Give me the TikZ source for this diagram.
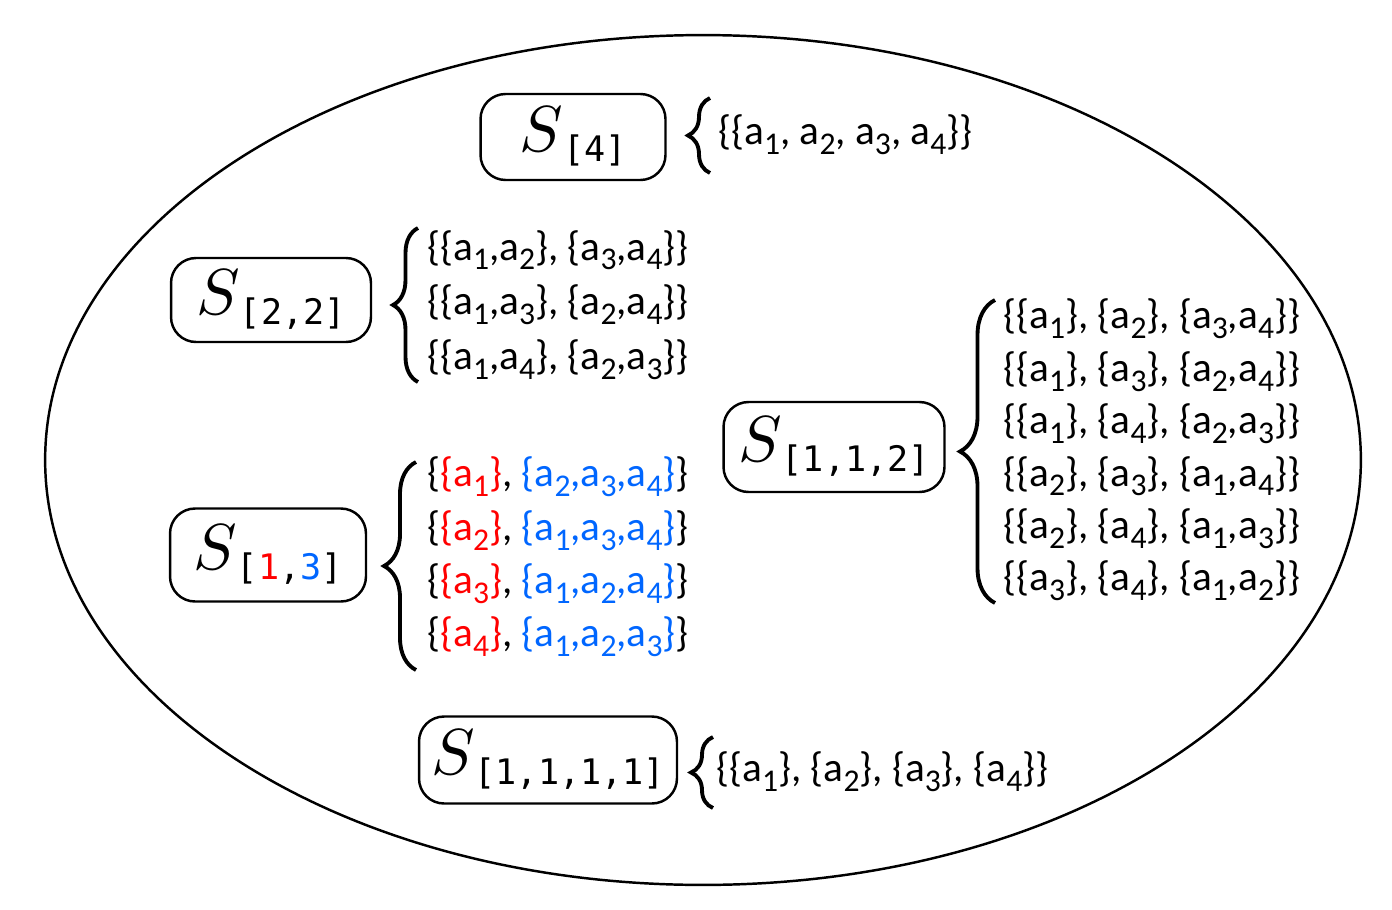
\documentclass[tikz,border=0pt]{standalone}
\usepackage{fontspec}
\setmainfont{Carlito}
\setmonofont{DejaVu Sans Mono}
\usepackage{graphicx}
\usepackage{xcolor}
\usepackage{tikz}
\usetikzlibrary{positioning}
\usetikzlibrary{shapes.geometric}
\usetikzlibrary{decorations.pathreplacing}
\definecolor{setred}{RGB}{255,0,0}
\definecolor{setblue}{RGB}{0,102,255}
\newcommand{\ai}[1]{a\raisebox{-0.24em}{\fontsize{18}{18}\selectfont #1}}
\newcommand{\Sym}[1]{\scalebox{3.7}{$S$}\raisebox{-0.2cm}{\ttfamily\fontsize{20}{20}\selectfont #1}}
\tikzset{
    partbox/.style = {rectangle, rounded corners=0.5cm, draw=black, line width=1.4pt, inner sep=0pt},
    setlist/.style = {anchor=west, align=left, inner sep=0pt},
    setbrace/.style = {decorate, decoration={brace, amplitude=0.5cm}, line width=2.2pt},
}

\begin{document}
\begin{tikzpicture}[
	x=0.02cm,
	y=-0.02cm
]
\useasboundingbox (0,0) rectangle (1392,909);
\node[ellipse, draw=black, line width=1.4pt, minimum width=26.32cm, minimum height=17cm, inner sep=0pt] at (703,460) (orbit) {};
% partition boxes
\node[partbox, minimum width=3.7cm, minimum height=1.72cm] at (573,137) (s4) {\Sym{[4]}};
\node[partbox, minimum width=4.0cm, minimum height=1.68cm] at (271,300) (s22) {\Sym{[2,2]}};
\node[partbox, minimum width=3.92cm, minimum height=1.86cm] at (268,555) (s13) {\Sym{[{\color{setred}1},{\color{setblue}3}]}};
\node[partbox, minimum width=4.42cm, minimum height=1.8cm] at (834,447) (s112) {\Sym{[1,1,2]}};
\node[partbox, minimum width=5.16cm, minimum height=1.74cm] at (548,760) (s1111) {\Sym{[1,1,1,1]}};
% set lists
\node[setlist, font=\fontsize{23.5}{30}\selectfont] at (718,135) (l4) {\{\{\ai1, \ai2, \ai3, \ai4\}\}};
\node[setlist, font=\fontsize{23.5}{31.2}\selectfont] at (427,305) (l22) {\{\{\ai1,\ai2\}, \{\ai3,\ai4\}\}\\
\{\{\ai1,\ai3\}, \{\ai2,\ai4\}\}\\
\{\{\ai1,\ai4\}, \{\ai2,\ai3\}\}};
\node[setlist, font=\fontsize{23.5}{30.4}\selectfont] at (427,557) (l13) {\{{\color{setred}\{\ai1\}}, {\color{setblue}\{\ai2,\ai3,\ai4\}}\}\\
\{{\color{setred}\{\ai2\}}, {\color{setblue}\{\ai1,\ai3,\ai4\}}\}\\
\{{\color{setred}\{\ai3\}}, {\color{setblue}\{\ai1,\ai2,\ai4\}}\}\\
\{{\color{setred}\{\ai4\}}, {\color{setblue}\{\ai1,\ai2,\ai3\}}\}};
\node[setlist, font=\fontsize{23.5}{29.8}\selectfont] at (1003,450) (l112) {\{\{\ai1\}, \{\ai2\}, \{\ai3,\ai4\}\}\\
\{\{\ai1\}, \{\ai3\}, \{\ai2,\ai4\}\}\\
\{\{\ai1\}, \{\ai4\}, \{\ai2,\ai3\}\}\\
\{\{\ai2\}, \{\ai3\}, \{\ai1,\ai4\}\}\\
\{\{\ai2\}, \{\ai4\}, \{\ai1,\ai3\}\}\\
\{\{\ai3\}, \{\ai4\}, \{\ai1,\ai2\}\}};
\node[setlist, font=\fontsize{23.5}{30}\selectfont] at (716,772) (l1111) {\{\{\ai1\}, \{\ai2\}, \{\ai3\}, \{\ai4\}\}};
% braces
\draw[setbrace, decoration={amplitude=0.44cm}] (710,173) -- (710,98);
\draw[setbrace] (418,382) -- (418,228);
\draw[setbrace, decoration={amplitude=0.64cm}] (416,670) -- (416,462);
\draw[setbrace, decoration={amplitude=0.7cm}] (995,603) -- (995,300);
\draw[setbrace, decoration={amplitude=0.44cm}] (713,808) -- (713,737);

\end{tikzpicture}
\end{document}
